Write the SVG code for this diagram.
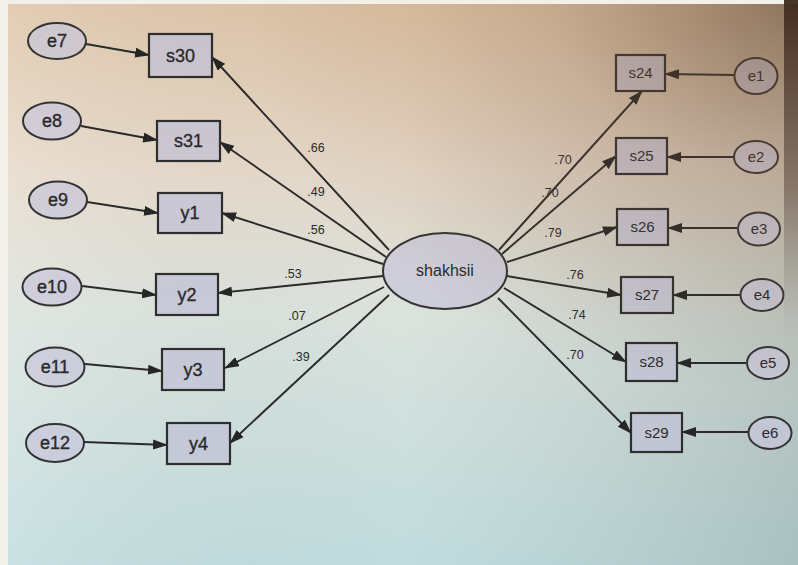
<svg xmlns="http://www.w3.org/2000/svg" width="798" height="565" viewBox="0 0 798 565">
<defs>
<linearGradient id="bgV" x1="0" y1="0" x2="0" y2="1">
<stop offset="0" stop-color="#dec4a6"/>
<stop offset="0.3" stop-color="#e6d9ca"/>
<stop offset="0.55" stop-color="#dbe3dd"/>
<stop offset="1" stop-color="#c0dcde"/>
</linearGradient>
<linearGradient id="bgH" x1="0" y1="0" x2="1" y2="0">
<stop offset="0" stop-color="#ffffff" stop-opacity="0.15"/>
<stop offset="0.5" stop-color="#808080" stop-opacity="0"/>
<stop offset="1" stop-color="#4a5450" stop-opacity="0.2"/>
</linearGradient>
<radialGradient id="vig" cx="1" cy="0" r="0.7">
<stop offset="0" stop-color="#5a3a22" stop-opacity="0.5"/>
<stop offset="0.45" stop-color="#8a5a38" stop-opacity="0.2"/>
<stop offset="1" stop-color="#8a5a38" stop-opacity="0"/>
</radialGradient>
<linearGradient id="bezel" x1="0" y1="0" x2="0" y2="1">
<stop offset="0" stop-color="#3e2a1e" stop-opacity="0.95"/>
<stop offset="0.35" stop-color="#6a5a4e" stop-opacity="0.6"/>
<stop offset="0.6" stop-color="#8a9490" stop-opacity="0"/>
</linearGradient>
<marker id="ah" markerWidth="15" markerHeight="10" refX="14" refY="5" orient="auto" markerUnits="userSpaceOnUse">
<path d="M0,0 L15,5 L0,10 Z" fill="#262626"/>
</marker>
</defs>
<style>
.lat{fill:#c8c6da;fill-opacity:0.72;stroke:#333;stroke-width:2}
.obs{fill:#c2c2d6;fill-opacity:0.75;stroke:#2e2e2e;stroke-width:2.2}
.err{fill:#c8c6da;fill-opacity:0.72;stroke:#333;stroke-width:2}
.c{fill:none;stroke:#2a2a2a;stroke-width:1.9;marker-end:url(#ah)}
.tl{font-family:"Liberation Sans",Arial,sans-serif;font-size:18px;fill:#2a2a2a;stroke:#2a2a2a;stroke-width:0.35;text-anchor:middle}
.tr{font-family:"Liberation Sans",Arial,sans-serif;font-size:15px;fill:#2a2a2a;text-anchor:middle}
.tc{font-family:"Liberation Sans",Arial,sans-serif;font-size:16px;fill:#2a2a2a;text-anchor:middle}
.w{font-family:"Liberation Sans",Arial,sans-serif;font-size:12.5px;fill:#2a2a2a;text-anchor:middle}
</style>
<rect x="0" y="0" width="798" height="565" fill="#f3efe9"/>
<rect x="8" y="4" width="790" height="561" fill="url(#bgV)"/>
<rect x="8" y="4" width="790" height="561" fill="url(#bgH)"/>

<g id="connectors">
<line class="c" x1="389" y1="250" x2="212" y2="57"/>
<line class="c" x1="386" y1="257" x2="220" y2="142"/>
<line class="c" x1="383" y1="264" x2="222" y2="213"/>
<line class="c" x1="383" y1="276" x2="218" y2="293"/>
<line class="c" x1="384" y1="287" x2="225" y2="368"/>
<line class="c" x1="389" y1="295" x2="230" y2="443"/>
<line class="c" x1="499" y1="250" x2="642" y2="91"/>
<line class="c" x1="502" y1="254" x2="616" y2="156"/>
<line class="c" x1="507" y1="262" x2="617" y2="227"/>
<line class="c" x1="507" y1="276" x2="621" y2="295"/>
<line class="c" x1="504" y1="288" x2="626" y2="362"/>
<line class="c" x1="498" y1="298" x2="631" y2="433"/>
<line class="c" x1="86" y1="44" x2="149" y2="55"/>
<line class="c" x1="81" y1="126" x2="157" y2="140"/>
<line class="c" x1="87" y1="202" x2="158" y2="213"/>
<line class="c" x1="82" y1="286" x2="156" y2="295"/>
<line class="c" x1="85" y1="364" x2="162" y2="371"/>
<line class="c" x1="84" y1="442" x2="167" y2="445"/>
<line class="c" x1="734" y1="75" x2="665" y2="74"/>
<line class="c" x1="734" y1="157" x2="667" y2="157"/>
<line class="c" x1="737" y1="228" x2="668" y2="228"/>
<line class="c" x1="740" y1="295" x2="673" y2="295"/>
<line class="c" x1="746" y1="363" x2="677" y2="363"/>
<line class="c" x1="748" y1="432" x2="682" y2="432"/>
<text class="w" x="316" y="152">.66</text>
<text class="w" x="316" y="196">.49</text>
<text class="w" x="316" y="234">.56</text>
<text class="w" x="293" y="278">.53</text>
<text class="w" x="297" y="320">.07</text>
<text class="w" x="301" y="361">.39</text>
<text class="w" x="563" y="164">.70</text>
<text class="w" x="550" y="197">.70</text>
<text class="w" x="553" y="237">.79</text>
<text class="w" x="575" y="279">.76</text>
<text class="w" x="577" y="319">.74</text>
<text class="w" x="575" y="359">.70</text>
</g>

<g id="shakhsii"><ellipse class="lat" cx="445" cy="271" rx="62" ry="38"/><text class="tc" x="445" y="276">shakhsii</text></g>

<g id="s30"><rect class="obs" x="149" y="34" width="63" height="43"/><text class="tl" x="180.5" y="62">s30</text></g>
<g id="s31"><rect class="obs" x="157" y="121" width="63" height="40"/><text class="tl" x="188.5" y="147">s31</text></g>
<g id="y1"><rect class="obs" x="158" y="193" width="64" height="40"/><text class="tl" x="190" y="219">y1</text></g>
<g id="y2"><rect class="obs" x="156" y="274" width="62" height="41"/><text class="tl" x="187" y="301">y2</text></g>
<g id="y3"><rect class="obs" x="162" y="349" width="62" height="41"/><text class="tl" x="193" y="376">y3</text></g>
<g id="y4"><rect class="obs" x="167" y="423" width="63" height="41"/><text class="tl" x="198.5" y="450">y4</text></g>

<g id="e7"><ellipse class="err" cx="57" cy="41" rx="29" ry="18"/><text class="tl" x="57" y="47">e7</text></g>
<g id="e8"><ellipse class="err" cx="52" cy="121" rx="29" ry="18.5"/><text class="tl" x="52" y="127">e8</text></g>
<g id="e9"><ellipse class="err" cx="58" cy="200" rx="29" ry="18.5"/><text class="tl" x="58" y="206">e9</text></g>
<g id="e10"><ellipse class="err" cx="52" cy="287" rx="29.5" ry="18.5"/><text class="tl" x="52" y="293">e10</text></g>
<g id="e11"><ellipse class="err" cx="55" cy="367" rx="29.5" ry="19.5"/><text class="tl" x="55" y="373">e11</text></g>
<g id="e12"><ellipse class="err" cx="55" cy="443" rx="29" ry="19"/><text class="tl" x="55" y="449">e12</text></g>

<g id="s24"><rect class="obs" x="616" y="55" width="49" height="36"/><text class="tr" x="640.5" y="78">s24</text></g>
<g id="s25"><rect class="obs" x="616" y="138" width="51" height="36"/><text class="tr" x="641.5" y="161">s25</text></g>
<g id="s26"><rect class="obs" x="617" y="209" width="51" height="36"/><text class="tr" x="642.5" y="232">s26</text></g>
<g id="s27"><rect class="obs" x="621" y="277" width="52" height="36"/><text class="tr" x="647" y="300">s27</text></g>
<g id="s28"><rect class="obs" x="626" y="343" width="51" height="38"/><text class="tr" x="651.5" y="367">s28</text></g>
<g id="s29"><rect class="obs" x="631" y="413" width="51" height="39"/><text class="tr" x="656.5" y="438">s29</text></g>

<g id="e1"><ellipse class="err" cx="756" cy="76" rx="21.5" ry="18"/><text class="tr" x="756" y="81">e1</text></g>
<g id="e2"><ellipse class="err" cx="756" cy="157" rx="22" ry="16"/><text class="tr" x="756" y="162">e2</text></g>
<g id="e3"><ellipse class="err" cx="759" cy="229" rx="21" ry="16.5"/><text class="tr" x="759" y="234">e3</text></g>
<g id="e4"><ellipse class="err" cx="762" cy="295" rx="21.5" ry="16"/><text class="tr" x="762" y="300">e4</text></g>
<g id="e5"><ellipse class="err" cx="768" cy="363" rx="21" ry="16"/><text class="tr" x="768" y="368">e5</text></g>
<g id="e6"><ellipse class="err" cx="770" cy="433" rx="21.5" ry="16"/><text class="tr" x="770" y="438">e6</text></g>

<rect x="8" y="4" width="790" height="561" fill="url(#vig)" pointer-events="none"/>
<rect x="784" y="0" width="14" height="565" fill="url(#bezel)"/>
</svg>
